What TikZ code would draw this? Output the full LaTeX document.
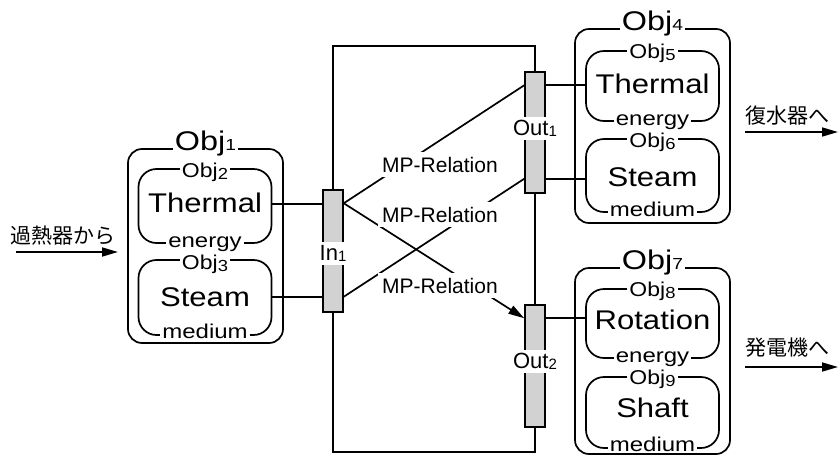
\documentclass[tikz,border=0pt]{standalone}
\usepackage{graphicx}
\usepackage{fontspec}
\setmainfont{Liberation Sans}
\newfontfamily\jp{Noto Sans CJK JP}
\usetikzlibrary{arrows.meta,calc}
\newcommand{\bigtxt}[1]{\scalebox{1.15}[1]{\fontsize{27}{27}\selectfont #1}}
\newcommand{\objouter}[1]{\scalebox{1.2}[1]{\fontsize{27}{27}\selectfont Obj{\fontsize{16}{16}\selectfont #1}}}
\newcommand{\objinner}[1]{\scalebox{1.15}[1]{\fontsize{20}{20}\selectfont Obj\raisebox{-2.5pt}{\fontsize{16}{16}\selectfont #1}}}
\newcommand{\smalltxt}[1]{\scalebox{1.2}[1]{\fontsize{20}{20}\selectfont #1}}
\newcommand{\porttxt}[2]{\fontsize{22}{22}\selectfont #1\raisebox{-1.5pt}{\fontsize{15}{15}\selectfont #2}}
\begin{document}
\begin{tikzpicture}[x=1pt,y=-1pt,
  outerbox/.style={draw,line width=1.7pt,rounded corners=14pt,inner sep=0pt,minimum width=155pt},
  innerbox/.style={draw,line width=1.7pt,rounded corners=18pt,inner sep=0pt,minimum width=133pt},
  portbox/.style={draw,line width=1.5pt,fill=gray!35,minimum width=20pt,inner sep=0pt},
  conn/.style={line width=1.7pt},
  arr/.style={line width=1.7pt,-{Triangle[length=16pt,width=9pt]}},
  lbl/.style={fill=white,inner xsep=2pt,inner ysep=0pt,anchor=base},
  txt/.style={inner sep=0pt,anchor=base},
  rel/.style={fill=white,inner sep=4.5pt,anchor=base,font=\fontsize{21}{21}\selectfont},
  plbl/.style={fill=white,inner xsep=2pt,inner ysep=3pt,anchor=base},
  jtxt/.style={inner sep=0pt,anchor=base west,font=\jp\fontsize{21}{21}\selectfont}]
\useasboundingbox[fill=white] (0,0) rectangle (838,455);

% ---------- Obj1 group ----------
\node[outerbox,minimum height=194pt] (obj1) at (205.5,246) {};
\node[innerbox,minimum height=74pt] (obj2) at (205,206) {};
\node[innerbox,minimum height=75pt] (obj3) at (205,297.5) {};
\node[lbl] (obj1l) at (205.5,150) {\objouter{1}};
\node[lbl] (obj2l) at (205,177) {\objinner{2}};
\node[txt] (obj2t) at (205,212) {\bigtxt{Thermal}};
\node[lbl] (obj2b) at (205,247) {\smalltxt{energy}};
\node[lbl] (obj3l) at (205,269) {\objinner{3}};
\node[txt] (obj3t) at (205,306) {\bigtxt{Steam}};
\node[lbl] (obj3b) at (205,338) {\smalltxt{medium}};

% ---------- Obj4 group ----------
\node[outerbox,minimum height=194pt] (obj4) at (652.5,126) {};
\node[innerbox,minimum height=70pt] (obj5) at (652.5,86) {};
\node[innerbox,minimum height=73pt] (obj6) at (652.5,175.5) {};
\node[lbl] (obj4l) at (652.5,30) {\objouter{4}};
\node[lbl] (obj5l) at (652.5,58) {\objinner{5}};
\node[txt] (obj5t) at (652.5,93) {\bigtxt{Thermal}};
\node[lbl] (obj5b) at (652.5,125) {\smalltxt{energy}};
\node[lbl] (obj6l) at (652.5,147) {\objinner{6}};
\node[txt] (obj6t) at (652.5,186) {\bigtxt{Steam}};
\node[lbl] (obj6b) at (652.5,216) {\smalltxt{medium}};

% ---------- Obj7 group ----------
\node[outerbox,minimum height=186pt] (obj7) at (652.5,361) {};
\node[innerbox,minimum height=69pt] (obj8) at (652.5,323.5) {};
\node[innerbox,minimum height=71pt] (obj9) at (652.5,412.5) {};
\node[lbl] (obj7l) at (652.5,269) {\objouter{7}};
\node[lbl] (obj8l) at (652.5,296) {\objinner{8}};
\node[txt] (obj8t) at (652.5,329) {\bigtxt{Rotation}};
\node[lbl] (obj8b) at (652.5,362) {\smalltxt{energy}};
\node[lbl] (obj9l) at (652.5,384) {\objinner{9}};
\node[txt] (obj9t) at (652.5,417) {\bigtxt{Shaft}};
\node[lbl] (obj9b) at (652.5,451) {\smalltxt{medium}};

% ---------- frame and ports ----------
\coordinate (ftr) at (535,46);
\coordinate (fbr) at (535,452);
\node[portbox,minimum height=122pt] (in1) at (333,251) {};
\node[portbox,minimum height=121pt] (out1) at (535,132.5) {};
\node[portbox,minimum height=122pt] (out2) at (535,366) {};
\draw[conn] (in1.north) |- (ftr) -- (out1.north);
\draw[conn] (out1.south) -- (out2.north);
\draw[conn] (in1.south) |- (fbr) -- (out2.south);
\node[portbox,minimum height=122pt] at (in1) {};
\node[portbox,minimum height=121pt] at (out1) {};
\node[portbox,minimum height=122pt] at (out2) {};
\node[plbl] (in1l) at (333,260) {\porttxt{In}{1}};
\node[plbl] (out1l) at (535,135) {\porttxt{Out}{1}};
\node[plbl] (out2l) at (535,368) {\porttxt{Out}{2}};

% connection points
\coordinate (ina) at ([yshift=-14pt]in1.north east);
\coordinate (inb) at ([yshift=16pt]in1.south east);
\coordinate (inal) at ([yshift=-15pt]in1.north west);
\coordinate (inbl) at ([yshift=16pt]in1.south west);
\coordinate (o1a) at ([yshift=-14pt]out1.north west);
\coordinate (o1b) at ([yshift=15pt]out1.south west);
\coordinate (o1ar) at ([yshift=-14pt]out1.north east);
\coordinate (o1br) at ([yshift=15pt]out1.south east);
\coordinate (o2a) at ([yshift=-14pt]out2.north west);
\coordinate (o2ar) at ([yshift=-14pt]out2.north east);

% horizontal connectors
\draw[conn] (obj2.east |- inal) -- (inal);
\draw[conn] (obj3.east |- inbl) -- (inbl);
\draw[conn] (o1ar) -- (obj5.west |- o1ar);
\draw[conn] (o1br) -- (obj6.west |- o1br);
\draw[conn] (o2ar) -- (obj8.west |- o2ar);

% MP relations
\draw[conn] (ina) -- (o1a);
\draw[conn] (inb) -- (o1b);
\draw[arr] (ina) -- (o2a);
\node[rel] (r1) at (440,172) {MP-Relation};
\node[rel] (r2) at (440,222) {MP-Relation};
\node[rel] (r3) at (440,293) {MP-Relation};

% external arrows
\coordinate (lin0) at (16,252);
\coordinate (lin1) at (118,252);
\draw[arr] (lin0) -- (lin1);
\node[jtxt] (jin) at (10,243) {過熱器から};
\coordinate (r1a) at (745,132);
\coordinate (r1b) at (838,132);
\draw[arr] (r1a) -- (r1b);
\node[jtxt] (jout1) at (745,123) {復水器へ};
\coordinate (r2a) at (745,367);
\coordinate (r2b) at (838,367);
\draw[arr] (r2a) -- (r2b);
\node[jtxt] (jout2) at (745,355) {発電機へ};
\end{tikzpicture}
\end{document}
